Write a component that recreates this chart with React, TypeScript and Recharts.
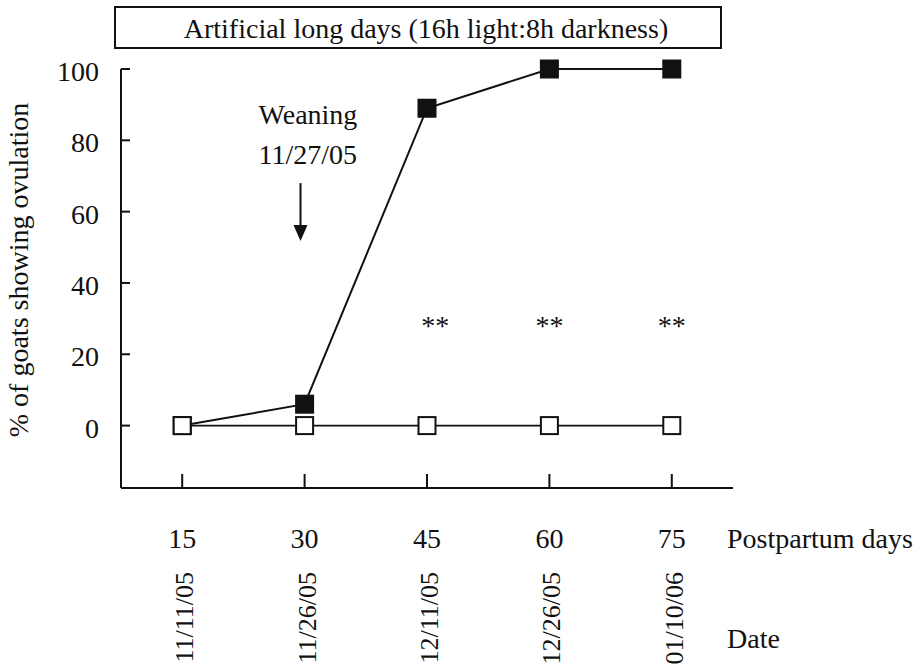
import React from 'react';
import {
  LineChart,
  Line,
  XAxis,
  YAxis,
  ReferenceDot,
  Customized
} from 'recharts';

const days = [15, 30, 45, 60, 75];
const dates = ['11/11/05', '11/26/05', '12/11/05', '12/26/05', '01/10/06'];
const filledGroup = [0, 6, 89, 100, 100];
const openGroup = [0, 0, 0, 0, 0];
const yTicks = [0, 20, 40, 60, 80, 100];
const starDays = [46, 60, 75];
const starLabel = '**';

const data = days.map((d, i) => ({ day: d, filled: filledGroup[i], open: openGroup[i] }));

const FONT = '"Liberation Serif", "Times New Roman", serif';
const INK = '#111';

const FilledSquare = (p: any) => (
  <rect key={`f-${p.index}`} x={p.cx - 9.5} y={p.cy - 9.5} width={19} height={19} fill={INK} />
);

const OpenSquare = (p: any) => (
  <rect
    key={`o-${p.index}`}
    x={p.cx - 8.5}
    y={p.cy - 8.5}
    width={17}
    height={17}
    fill="#fff"
    stroke={INK}
    strokeWidth={2}
  />
);

const XTick = (p: any) => {
  const { x, y, index, payload } = p;
  return (
    <g>
      <line x1={x} y1={y} x2={x} y2={y - 14} stroke={INK} strokeWidth={2} />
      <text x={x} y={y + 60} textAnchor="middle" fontFamily={FONT} fontSize={28} fill={INK}>
        {payload.value}
      </text>
      <text
        x={x + 11}
        y={y + 84}
        textAnchor="end"
        transform={`rotate(-90, ${x + 11}, ${y + 84})`}
        fontFamily={FONT}
        fontSize={26}
        fill={INK}
      >
        {dates[index]}
      </text>
    </g>
  );
};

const YTick = (p: any) => {
  const { x, y, payload } = p;
  return (
    <g>
      <line x1={x} y1={y} x2={x + 9} y2={y} stroke={INK} strokeWidth={2} />
      <text x={x - 22} y={y + 12} textAnchor="end" fontFamily={FONT} fontSize={28} fill={INK}>
        {payload.value}
      </text>
    </g>
  );
};

const Frame = () => (
  <g>
    <rect x={115} y={7} width={606} height={41} fill="#fff" stroke={INK} strokeWidth={2} />
    <text x={426} y={38} textAnchor="middle" fontFamily={FONT} fontSize={28} fill={INK}>
      Artificial long days (16h light:8h darkness)
    </text>
    <text
      x={28}
      y={270}
      textAnchor="middle"
      fontFamily={FONT}
      fontSize={28}
      fill={INK}
      transform="rotate(-90, 28, 270)"
    >
      % of goats showing ovulation
    </text>
    <text x={727} y={548} fontFamily={FONT} fontSize={28} fill={INK}>Postpartum days</text>
    <text x={727} y={648} fontFamily={FONT} fontSize={28} fill={INK}>Date</text>
  </g>
);

const WeaningMark = (p: any) => {
  const { cx, cy } = p;
  return (
    <g>
      <text x={cx - 42} y={cy - 59} fontFamily={FONT} fontSize={28} fill={INK}>Weaning</text>
      <text x={cx - 42} y={cy - 19} fontFamily={FONT} fontSize={28} fill={INK}>11/27/05</text>
      <line x1={cx} y1={cy} x2={cx} y2={cy + 46} stroke={INK} strokeWidth={2} />
      <polygon points={`${cx - 7},${cy + 42} ${cx + 7},${cy + 42} ${cx},${cy + 58}`} fill={INK} />
    </g>
  );
};

const StarMark = (p: any) => (
  <text x={p.cx} y={p.cy + 16} textAnchor="middle" fontFamily={FONT} fontSize={28} fill={INK}>
    {starLabel}
  </text>
);

export default function App() {
  return (
    <div style={{ position: 'absolute', left: 0, top: 0, background: '#fff' }}>
      <LineChart
        width={917}
        height={669}
        data={data}
        margin={{ top: 69, right: 184, bottom: 180, left: 120 }}
      >
        <Customized component={Frame} />
        <XAxis
          dataKey="day"
          type="number"
          domain={[7.5, 82.5]}
          ticks={days}
          interval={0}
          height={1}
          tickSize={0}
          tickMargin={0}
          tickLine={false}
          axisLine={{ stroke: INK, strokeWidth: 2 }}
          tick={XTick}
        />
        <YAxis
          type="number"
          domain={[-17.5, 100]}
          ticks={yTicks}
          interval={0}
          width={1}
          tickSize={0}
          tickMargin={0}
          tickLine={false}
          axisLine={{ stroke: INK, strokeWidth: 2 }}
          tick={YTick}
        />
        <Line
          dataKey="filled"
          type="linear"
          stroke={INK}
          strokeWidth={2}
          dot={FilledSquare}
          activeDot={false}
          isAnimationActive={false}
        />
        <Line
          dataKey="open"
          type="linear"
          stroke={INK}
          strokeWidth={1.6}
          dot={OpenSquare}
          activeDot={false}
          isAnimationActive={false}
        />
        <ReferenceDot x={29.5} y={68} r={0} shape={WeaningMark} />
        {starDays.map((d) => (
          <ReferenceDot key={d} x={d} y={30} r={0} shape={StarMark} />
        ))}
      </LineChart>
    </div>
  );
}
